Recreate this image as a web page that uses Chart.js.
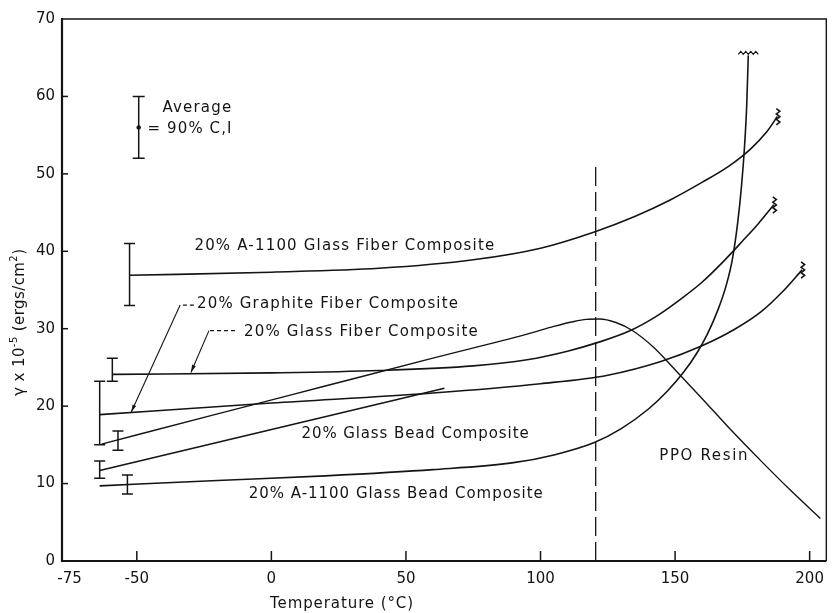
<!DOCTYPE html>
<html lang="en">
<head>
<meta charset="UTF-8">
<title>Surface energy vs temperature</title>
<script src="https://cdn.jsdelivr.net/npm/chart.js@4"></script>
<style>
  html, body { margin: 0; padding: 0; background: #fff; }
</style>
</head>
<body>
<canvas id="chart" width="833" height="613"></canvas>
<script>
// ---- data (temperature °C, value x10^-5 ergs/cm2) ----
const a1100FiberT = [-52.7, 0, 40, 75, 100, 120, 135, 148, 160, 170, 178, 184, 188];
const a1100FiberY = [36.9, 37.3, 37.8, 38.9, 40.4, 42.5, 44.5, 46.6, 48.9, 51.0, 53.2, 55.4, 57.4];

const graphiteT = [-63.8, 0, 60, 100, 125, 145, 160, 172, 182, 190, 197.2];
const graphiteY = [18.9, 20.4, 21.7, 22.9, 24.0, 25.8, 27.8, 29.9, 32.2, 34.8, 37.6];

const glassFiberT = [-58.9, 0, 40, 75, 95, 110, 122, 133, 143, 152, 160, 168, 175, 181, 186.7];
const glassFiberY = [24.1, 24.3, 24.6, 25.2, 26.0, 27.1, 28.3, 29.7, 31.6, 33.8, 36.0, 38.7, 41.3, 43.6, 46.0];

const ppoT = [-63.1, -20, 20, 60, 95, 105, 112, 117, 122, 128, 134, 142, 150, 160, 170, 182, 193, 204];
const ppoY = [15.1, 19.0, 22.6, 26.2, 29.3, 30.3, 30.9, 31.2, 31.25, 30.8, 29.8, 27.6, 24.7, 21.0, 17.2, 12.9, 9.1, 5.5];

const glassBeadT = [-63.8, 64.3];
const glassBeadY = [11.7, 22.3];

const a1100BeadT = [-63.8, -20, 20, 60, 90, 105, 120, 130, 140, 147, 153, 158, 162, 166, 169, 171.3, 173.2, 174.7, 175.8, 176.6, 177.2];
const a1100BeadY = [9.7, 10.4, 11.0, 11.8, 12.7, 13.7, 15.3, 17.1, 19.6, 21.9, 24.3, 26.8, 29.3, 32.5, 35.6, 39.0, 43.5, 48.5, 53.5, 58.7, 65.3];

// vertical dashed marker
const markerT = [120.5, 120.5];
const markerY = [0, 51];

// 90% confidence bars at the low-temperature ends
const errT  = [-52.7, -59.1, -63.8, -57.0, -63.8, -53.5];
const errLo = [33, 23.2, 15.0, 14.3, 10.7, 8.65];
const errHi = [41, 26.2, 23.2, 16.8, 12.9, 11.1];

// key bar: average = 90% C.I.
const keyT = -49.3, keyLo = 52, keyHi = 60, keyMean = 56;

const xTicks = [-75, -50, 0, 50, 100, 150, 200];
const yTicks = [0, 10, 20, 30, 40, 50, 60, 70];

// ---- helpers ----
function pts(xs, ys) { return xs.map((x, i) => ({ x: x, y: ys[i] })); }

const FONT = '"DejaVu Sans", sans-serif';
const INK = '#141414';

function line(xs, ys, extra) {
    return Object.assign({
        data: pts(xs, ys),
        showLine: true,
        borderColor: INK,
        borderWidth: 1.6,
        pointRadius: 0,
        fill: false,
        cubicInterpolationMode: 'monotone'
    }, extra || {});
}

// text labels: left x / baseline y in data units, target width in px
const labels = [
    { text: 'Average', x: -40.5, y: 58.0, w: 70, size: 15 },
    { text: '= 90% C,I', x: -46.0, y: 55.3, w: 85, size: 15 },
    { text: '20% A-1100 Glass Fiber Composite', x: -28.6, y: 40.2, w: 301, size: 15 },
    { text: '20% Graphite Fiber Composite', x: -27.6, y: 32.7, w: 262, size: 15 },
    { text: '20% Glass Fiber Composite', x: -10.2, y: 29.0, w: 235, size: 15 },
    { text: '20% Glass Bead Composite', x: 11.2, y: 15.9, w: 228, size: 15 },
    { text: '20% A-1100 Glass Bead Composite', x: -8.4, y: 8.1, w: 295, size: 15 },
    { text: 'PPO Resin', x: 144.1, y: 13.0, w: 90, size: 15 }
];

// leader lines: short dashed bit near the text, corner, arrow onto the curve
const leaders = [
    { dash: [-28.8, 33.05], corner: [-33.9, 33.05], tip: [-52.1, 19.2] },
    { dash: [-13.5, 29.75], corner: [-23.2, 29.75], tip: [-29.9, 24.35] }
];

function fitText(ctx, str, x, y, w) {
    ctx.letterSpacing = '0px';
    const m = ctx.measureText(str).width;
    const ls = (w - m) / Math.max(1, str.length);
    ctx.letterSpacing = ls + 'px';
    ctx.fillText(str, x, y);
    ctx.letterSpacing = '0px';
}

function vWiggle(ctx, x, y) {
    ctx.beginPath();
    for (let i = 0; i <= 6; i++) {
        const px = x + (i % 2 ? 2.5 : -1);
        const py = y - 8 + i * 2.7;
        if (i === 0) ctx.moveTo(px, py); else ctx.lineTo(px, py);
    }
    ctx.stroke();
}

function hWiggle(ctx, x, y) {
    ctx.beginPath();
    for (let i = 0; i <= 8; i++) {
        const px = x - 10 + i * 2.5;
        const py = y + (i % 2 ? -2 : 1);
        if (i === 0) ctx.moveTo(px, py); else ctx.lineTo(px, py);
    }
    ctx.stroke();
}

const decor = {
    id: 'decor',
    afterDatasetsDraw(chart) {
        const ctx = chart.ctx;
        const xs = chart.scales.x, ys = chart.scales.y;
        const a = chart.chartArea;
        const X = v => xs.getPixelForValue(v);
        const Y = v => ys.getPixelForValue(v);
        ctx.save();
        ctx.strokeStyle = INK;
        ctx.fillStyle = INK;
        ctx.lineCap = 'butt';

        // frame
        ctx.lineWidth = 1.4;
        ctx.beginPath();
        ctx.moveTo(a.left, a.top); ctx.lineTo(a.right, a.top); ctx.lineTo(a.right, a.bottom);
        ctx.stroke();
        ctx.lineWidth = 2.2;
        ctx.beginPath();
        ctx.moveTo(a.left, a.top - 1); ctx.lineTo(a.left, a.bottom); ctx.lineTo(a.right, a.bottom);
        ctx.stroke();

        // inward tick marks
        ctx.lineWidth = 1.5;
        yTicks.forEach(v => {
            if (v === 0 || v === 70) return;
            ctx.beginPath(); ctx.moveTo(a.left, Y(v)); ctx.lineTo(a.left + 6, Y(v)); ctx.stroke();
        });
        xTicks.forEach(v => {
            if (v === -75) return;
            ctx.beginPath(); ctx.moveTo(X(v), a.bottom); ctx.lineTo(X(v), a.bottom - 10); ctx.stroke();
        });

        // confidence bars
        ctx.lineWidth = 1.5;
        const bar = (t, lo, hi, half) => {
            const px = X(t);
            ctx.beginPath();
            ctx.moveTo(px, Y(lo)); ctx.lineTo(px, Y(hi));
            ctx.moveTo(px - half, Y(lo)); ctx.lineTo(px + half, Y(lo));
            ctx.moveTo(px - half, Y(hi)); ctx.lineTo(px + half, Y(hi));
            ctx.stroke();
        };
        errT.forEach((t, i) => bar(t, errLo[i], errHi[i], 5.5));
        bar(keyT, keyLo, keyHi, 6);
        ctx.beginPath(); ctx.arc(X(keyT), Y(keyMean), 2.2, 0, Math.PI * 2); ctx.fill();

        // break marks at curve ends
        ctx.lineWidth = 1.6;
        [[a1100FiberT, a1100FiberY], [glassFiberT, glassFiberY], [graphiteT, graphiteY]].forEach(s => {
            const n = s[0].length - 1;
            vWiggle(ctx, X(s[0][n]), Y(s[1][n]));
        });
        ctx.lineWidth = 1.2;
        const nb = a1100BeadT.length - 1;
        hWiggle(ctx, X(a1100BeadT[nb]), Y(a1100BeadY[nb]) - 2);

        // leader lines
        leaders.forEach(l => {
            ctx.lineWidth = 1.1;
            ctx.setLineDash([4, 3]);
            ctx.beginPath();
            ctx.moveTo(X(l.dash[0]), Y(l.dash[1])); ctx.lineTo(X(l.corner[0]), Y(l.corner[1]));
            ctx.stroke();
            ctx.setLineDash([]);
            const x0 = X(l.corner[0]), y0 = Y(l.corner[1]), x1 = X(l.tip[0]), y1 = Y(l.tip[1]);
            ctx.beginPath(); ctx.moveTo(x0, y0); ctx.lineTo(x1, y1); ctx.stroke();
            const ang = Math.atan2(y1 - y0, x1 - x0);
            ctx.beginPath();
            ctx.moveTo(x1, y1);
            ctx.lineTo(x1 - 8 * Math.cos(ang - 0.25), y1 - 8 * Math.sin(ang - 0.25));
            ctx.lineTo(x1 - 8 * Math.cos(ang + 0.25), y1 - 8 * Math.sin(ang + 0.25));
            ctx.closePath(); ctx.fill();
        });

        // text labels
        ctx.textBaseline = 'alphabetic';
        ctx.textAlign = 'left';
        labels.forEach(l => {
            ctx.font = l.size + 'px ' + FONT;
            fitText(ctx, l.text, X(l.x), Y(l.y), l.w);
        });

        // x-axis title
        ctx.font = '15px ' + FONT;
        fitText(ctx, 'Temperature (°C)', 270, 608, 144);

        // y-axis title, rotated, with superscripts
        const runs = [['γ x 10', 0], ['-5', 1], [' (ergs/cm', 0], ['2', 1], [')', 0]];
        ctx.translate(24, 323);
        ctx.rotate(-Math.PI / 2);
        let total = 0;
        runs.forEach(r => { ctx.font = (r[1] ? 10 : 15) + 'px ' + FONT; total += ctx.measureText(r[0]).width; });
        const ls = (147 - total) / 18;
        let cx = -73;
        runs.forEach(r => {
            ctx.font = (r[1] ? 10 : 15) + 'px ' + FONT;
            ctx.letterSpacing = ls + 'px';
            ctx.fillText(r[0], cx, r[1] ? -7 : 0);
            cx += ctx.measureText(r[0]).width;
        });
        ctx.letterSpacing = '0px';
        ctx.restore();
    }
};

new Chart(document.getElementById('chart'), {
    type: 'scatter',
    data: {
        datasets: [
            line(a1100FiberT, a1100FiberY),
            line(graphiteT, graphiteY),
            line(glassFiberT, glassFiberY),
            line(ppoT, ppoY, { borderWidth: 1.4 }),
            line(glassBeadT, glassBeadY),
            line(a1100BeadT, a1100BeadY),
            line(markerT, markerY, { borderWidth: 1.3, borderDash: [19, 6], cubicInterpolationMode: 'default', tension: 0 })
        ]
    },
    options: {
        responsive: false,
        animation: false,
        events: [],
        layout: { padding: { top: 19, right: 2, left: 0, bottom: 0 } },
        plugins: { legend: { display: false }, tooltip: { enabled: false } },
        scales: {
            x: {
                type: 'linear',
                min: -77.8,
                max: 206.2,
                afterBuildTicks: s => { s.ticks = xTicks.map(v => ({ value: v })); },
                afterFit: s => { s.height = 52; },
                grid: { display: false, drawTicks: false },
                border: { display: false },
                ticks: {
                    autoSkip: false, maxRotation: 0, padding: 9,
                    color: INK, font: { family: FONT, size: 15 }
                }
            },
            y: {
                type: 'linear',
                min: 0,
                max: 70,
                afterBuildTicks: s => { s.ticks = yTicks.map(v => ({ value: v })); },
                afterFit: s => { s.width = 62; },
                grid: { display: false, drawTicks: false },
                border: { display: false },
                ticks: {
                    padding: 7,
                    color: INK, font: { family: FONT, size: 15 }
                }
            }
        }
    },
    plugins: [decor]
});
</script>
</body>
</html>
